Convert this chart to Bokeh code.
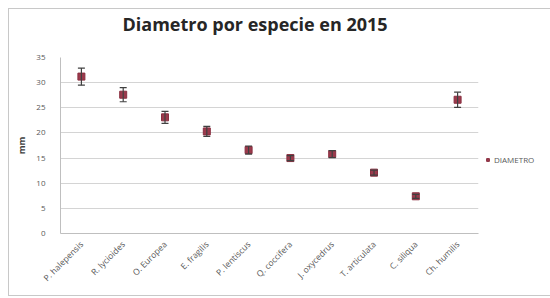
from math import pi
from bokeh.plotting import figure
from bokeh.models import (ColumnDataSource, Whisker, Range1d, FactorRange, Legend, LegendItem,
                          SingleIntervalTicker, Title)
from bokeh.embed import file_html
from bokeh.resources import INLINE

species = ["P. halepensis", "R. lycioides", "O. Europea", "E. fragilis", "P. lentiscus",
           "Q. coccifera", "J. oxycedrus", "T. articulata", "C. siliqua", "Ch. humilis"]
diametro = [31.2, 27.6, 23.1, 20.3, 16.6, 15.0, 15.8, 12.1, 7.4, 26.6]
error = [1.7, 1.4, 1.2, 1.0, 0.8, 0.5, 0.7, 0.5, 0.4, 1.5]

lower = [d - e for d, e in zip(diametro, error)]
upper = [d + e for d, e in zip(diametro, error)]
src = ColumnDataSource(dict(x=species, y=diametro, lower=lower, upper=upper))

p = figure(width=532, height=288, frame_width=418, x_range=FactorRange(*species),
           y_range=Range1d(0, 35), output_backend="svg", toolbar_location=None,
           title="Diametro por especie en 2015",
           min_border_left=51, min_border_right=0, min_border_top=0, min_border_bottom=64)
p.styles = {"margin": "8px 0 0 8px", "border": "1px solid #c8c8c8"}

whisk = Whisker(source=src, base="x", lower="lower", upper="upper", line_color="#404040",
                line_width=1.2, level="glyph")
whisk.upper_head.size = 7
whisk.lower_head.size = 7
whisk.upper_head.line_color = "#404040"
whisk.lower_head.line_color = "#404040"
whisk.upper_head.line_width = 1.2
whisk.lower_head.line_width = 1.2
p.add_layout(whisk)

r = p.scatter("x", "y", source=src, marker="square", size=7, fill_color="#9b3a4c",
              line_color="#8a2f40")

p.xgrid.grid_line_color = None
p.ygrid.grid_line_color = "#d4d4d4"
p.ygrid.ticker = SingleIntervalTicker(interval=5)
p.yaxis.ticker = SingleIntervalTicker(interval=5)
p.outline_line_color = None

for ax in (p.xaxis, p.yaxis):
    ax.axis_line_color = "#bfbfbf"
    ax.major_tick_line_color = None
    ax.minor_tick_line_color = None
    ax.major_label_text_color = "#595959"
    ax.major_label_text_font = "Open Sans"
    ax.major_label_text_font_size = "8px"

p.xaxis.major_label_text_font_size = "8.5px"
p.xaxis.major_label_orientation = pi / 4
p.xaxis.major_label_standoff = 3
p.yaxis.major_label_standoff = 9
p.yaxis.axis_label = "mm"
p.yaxis.axis_label_text_font = "Open Sans"
p.yaxis.axis_label_text_font_style = "bold"
p.yaxis.axis_label_text_font_size = "9px"
p.yaxis.axis_label_text_color = "#404040"
p.yaxis.axis_label_standoff = 5

p.title.align = "left"
p.title.offset = 62
p.title.text_font = "Open Sans"
p.title.text_font_size = "18px"
p.title.text_font_style = "bold"
p.title.text_color = "#262626"
p.title.standoff = 0

spacer = Title(text=" ", text_font_size="8px", standoff=11)
p.add_layout(spacer, "above")

legend = Legend(items=[LegendItem(label="DIAMETRO", renderers=[r])], location=(6, 68),
                border_line_color=None, background_fill_alpha=0, label_text_font="Open Sans",
                label_text_font_size="8px", label_text_color="#595959", glyph_width=7,
                glyph_height=7, padding=0, margin=0, label_standoff=3, label_height=7)
p.add_layout(legend, "right")

open("out.html", "w").write(file_html(p, INLINE))
